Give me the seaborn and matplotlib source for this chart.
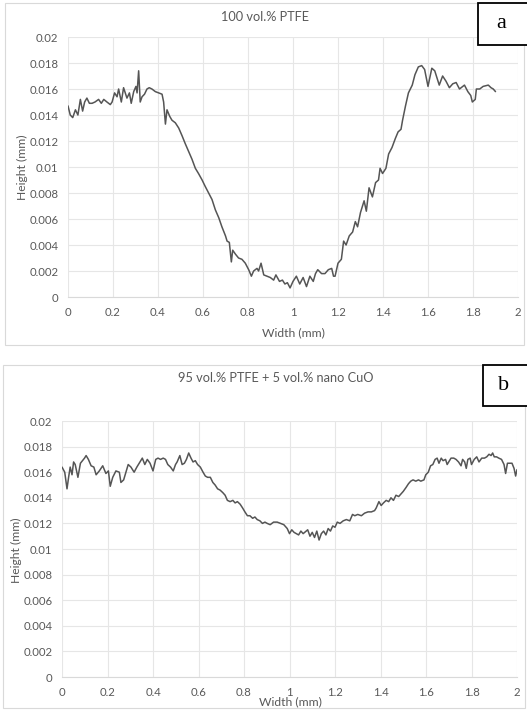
import matplotlib
matplotlib.use("Agg")
import matplotlib.pyplot as plt
from matplotlib.patches import Rectangle
import seaborn as sns
import pandas as pd

# ---------------- data ----------------
a_width = [0.000, 0.010, 0.021, 0.033, 0.044, 0.055, 0.065, 0.074, 0.084, 0.095,
           0.107, 0.120, 0.136, 0.148, 0.159, 0.173, 0.188, 0.196, 0.207, 0.218,
           0.225, 0.237, 0.247, 0.262, 0.273, 0.281, 0.292, 0.302, 0.307, 0.314,
           0.321, 0.329, 0.340, 0.351, 0.361, 0.373, 0.388, 0.403, 0.418, 0.425,
           0.433, 0.440, 0.452, 0.462, 0.477, 0.492, 0.507, 0.521, 0.536, 0.551,
           0.566, 0.580, 0.596, 0.610, 0.625, 0.640, 0.655, 0.670, 0.684, 0.700,
           0.707, 0.717, 0.726, 0.732, 0.744, 0.758, 0.773, 0.788, 0.803, 0.815,
           0.825, 0.840, 0.847, 0.858, 0.870, 0.884, 0.899, 0.914, 0.924, 0.940,
           0.953, 0.964, 0.975, 0.987, 1.000, 1.015, 1.030, 1.045, 1.060, 1.075,
           1.090, 1.100, 1.110, 1.127, 1.142, 1.157, 1.172, 1.180, 1.187, 1.200,
           1.215, 1.225, 1.236, 1.250, 1.265, 1.277, 1.287, 1.300, 1.316, 1.326,
           1.338, 1.353, 1.367, 1.380, 1.387, 1.398, 1.413, 1.425, 1.440, 1.455,
           1.467, 1.480, 1.487, 1.500, 1.513, 1.530, 1.542, 1.557, 1.572, 1.585,
           1.600, 1.617, 1.630, 1.650, 1.665, 1.680, 1.695, 1.710, 1.725, 1.740,
           1.762, 1.777, 1.790, 1.797, 1.810, 1.815, 1.830, 1.845, 1.868, 1.880,
           1.890, 1.900]
a_height = [0.0147, 0.0140, 0.0138, 0.0144, 0.0140, 0.0152, 0.0143, 0.0150, 0.0153, 0.0149,
            0.0149, 0.0150, 0.0152, 0.0149, 0.0152, 0.0150, 0.0148, 0.0150, 0.0157, 0.0154,
            0.0160, 0.0150, 0.0161, 0.0153, 0.0157, 0.0149, 0.0158, 0.0162, 0.0157, 0.0174,
            0.0150, 0.0154, 0.0156, 0.0160, 0.0161, 0.0160, 0.0158, 0.0157, 0.0156, 0.0150,
            0.0133, 0.0144, 0.0139, 0.0136, 0.0134, 0.0130, 0.0124, 0.0118, 0.0112, 0.0106,
            0.0099, 0.0095, 0.0090, 0.0085, 0.0080, 0.0075, 0.0067, 0.0061, 0.0054, 0.0047,
            0.0043, 0.0042, 0.0027, 0.0036, 0.0033, 0.0030, 0.0029, 0.0026, 0.0021, 0.0016,
            0.0020, 0.0022, 0.0020, 0.0026, 0.0017, 0.0016, 0.0015, 0.0013, 0.0017, 0.0012,
            0.0013, 0.0010, 0.0011, 0.0007, 0.0012, 0.0016, 0.0010, 0.0015, 0.0008, 0.0016,
            0.0012, 0.0018, 0.0021, 0.0018, 0.0018, 0.0021, 0.0022, 0.0016, 0.0016, 0.0026,
            0.0029, 0.0043, 0.0040, 0.0047, 0.0050, 0.0058, 0.0054, 0.0065, 0.0074, 0.0066,
            0.0084, 0.0077, 0.0088, 0.0090, 0.0099, 0.0095, 0.0099, 0.0110, 0.0115, 0.0122,
            0.0127, 0.0129, 0.0136, 0.0147, 0.0157, 0.0163, 0.0171, 0.0177, 0.0178, 0.0175,
            0.0162, 0.0176, 0.0174, 0.0163, 0.0170, 0.0166, 0.0161, 0.0164, 0.0165, 0.0160,
            0.0163, 0.0158, 0.0155, 0.0150, 0.0152, 0.0160, 0.0160, 0.0162, 0.0163, 0.0161,
            0.0160, 0.0158]

b_width = [0.000, 0.012, 0.022, 0.029, 0.036, 0.044, 0.051, 0.058, 0.070, 0.081,
           0.099, 0.106, 0.116, 0.128, 0.140, 0.150, 0.164, 0.179, 0.193, 0.204,
           0.212, 0.223, 0.237, 0.252, 0.259, 0.271, 0.281, 0.291, 0.303, 0.317,
           0.329, 0.343, 0.353, 0.364, 0.375, 0.387, 0.400, 0.412, 0.422, 0.433,
           0.445, 0.455, 0.465, 0.477, 0.489, 0.499, 0.506, 0.518, 0.528, 0.538,
           0.547, 0.557, 0.567, 0.576, 0.586, 0.596, 0.608, 0.620, 0.630, 0.640,
           0.652, 0.663, 0.673, 0.684, 0.695, 0.707, 0.717, 0.727, 0.739, 0.751,
           0.761, 0.771, 0.783, 0.794, 0.804, 0.815, 0.826, 0.838, 0.848, 0.858,
           0.870, 0.881, 0.892, 0.902, 0.915, 0.930, 0.946, 0.960, 0.975, 0.990,
           1.000, 1.010, 1.020, 1.040, 1.050, 1.060, 1.080, 1.090, 1.100, 1.110,
           1.120, 1.130, 1.140, 1.150, 1.160, 1.170, 1.180, 1.190, 1.200, 1.210,
           1.222, 1.236, 1.250, 1.265, 1.277, 1.287, 1.300, 1.316, 1.330, 1.345,
           1.360, 1.374, 1.381, 1.393, 1.403, 1.413, 1.425, 1.436, 1.446, 1.457,
           1.468, 1.480, 1.490, 1.500, 1.512, 1.523, 1.533, 1.543, 1.555, 1.567,
           1.577, 1.591, 1.599, 1.610, 1.620, 1.630, 1.640, 1.649, 1.657, 1.667,
           1.675, 1.686, 1.693, 1.700, 1.710, 1.722, 1.732, 1.743, 1.754, 1.761,
           1.770, 1.777, 1.784, 1.794, 1.800, 1.812, 1.823, 1.833, 1.845, 1.857,
           1.867, 1.877, 1.886, 1.893, 1.900, 1.910, 1.920, 1.932, 1.943, 1.950,
           1.958, 1.968, 1.978, 1.987, 1.994, 2.000]
b_height = [0.0164, 0.0160, 0.0147, 0.0156, 0.0164, 0.0158, 0.0168, 0.0166, 0.0156, 0.0167,
            0.0171, 0.0173, 0.0170, 0.0165, 0.0164, 0.0158, 0.0161, 0.0165, 0.0159, 0.0161,
            0.0149, 0.0156, 0.0161, 0.0160, 0.0152, 0.0154, 0.0160, 0.0166, 0.0164, 0.0160,
            0.0164, 0.0168, 0.0171, 0.0166, 0.0170, 0.0167, 0.0161, 0.0170, 0.0171, 0.0170,
            0.0171, 0.0170, 0.0166, 0.0164, 0.0161, 0.0166, 0.0168, 0.0173, 0.0166, 0.0167,
            0.0170, 0.0175, 0.0171, 0.0168, 0.0169, 0.0166, 0.0164, 0.0160, 0.0157, 0.0156,
            0.0156, 0.0152, 0.0150, 0.0147, 0.0146, 0.0144, 0.0142, 0.0138, 0.0137, 0.0138,
            0.0136, 0.0137, 0.0135, 0.0132, 0.0129, 0.0126, 0.0126, 0.0124, 0.0125, 0.0123,
            0.0122, 0.0120, 0.0121, 0.0120, 0.0119, 0.0121, 0.0121, 0.0120, 0.0119, 0.0116,
            0.0112, 0.0115, 0.0113, 0.0111, 0.0114, 0.0112, 0.0115, 0.0110, 0.0113, 0.0109,
            0.0114, 0.0107, 0.0112, 0.0114, 0.0111, 0.0116, 0.0114, 0.0118, 0.0117, 0.0121,
            0.0120, 0.0122, 0.0123, 0.0122, 0.0127, 0.0126, 0.0127, 0.0126, 0.0128, 0.0129,
            0.0129, 0.0130, 0.0132, 0.0137, 0.0134, 0.0136, 0.0138, 0.0137, 0.0140, 0.0138,
            0.0142, 0.0141, 0.0143, 0.0145, 0.0148, 0.0151, 0.0153, 0.0154, 0.0153, 0.0154,
            0.0153, 0.0154, 0.0158, 0.0160, 0.0165, 0.0166, 0.0170, 0.0171, 0.0167, 0.0171,
            0.0169, 0.0170, 0.0166, 0.0168, 0.0171, 0.0171, 0.0170, 0.0168, 0.0165, 0.0170,
            0.0168, 0.0163, 0.0170, 0.0171, 0.0166, 0.0170, 0.0172, 0.0168, 0.0171, 0.0171,
            0.0172, 0.0174, 0.0173, 0.0175, 0.0172, 0.0172, 0.0171, 0.0170, 0.0166, 0.0159,
            0.0167, 0.0167, 0.0167, 0.0163, 0.0157, 0.0162]

titles = ["100 vol.% PTFE", "95 vol.% PTFE + 5 vol.% nano CuO"]
panel_tags = ["a", "b"]
x_ticks = [0, 0.2, 0.4, 0.6, 0.8, 1, 1.2, 1.4, 1.6, 1.8, 2]
x_tick_labels = ["0", "0.2", "0.4", "0.6", "0.8", "1", "1.2", "1.4", "1.6", "1.8", "2"]
y_ticks = [0, 0.002, 0.004, 0.006, 0.008, 0.01, 0.012, 0.014, 0.016, 0.018, 0.02]
y_tick_labels = ["0", "0.002", "0.004", "0.006", "0.008", "0.01", "0.012", "0.014",
                 "0.016", "0.018", "0.02"]
x_label = "Width (mm)"
y_label = "Height (mm)"

# ---------------- style ----------------
sns.set_theme(style="white")
plt.rcParams["font.family"] = ["Lato", "DejaVu Sans"]

W, H = 527, 712
fig = plt.figure(figsize=(W / 100, H / 100), dpi=100)
fig.patch.set_facecolor("white")

TXT = "#595959"
GRID = "#e6e6e6"
LINE = "#555555"

def fx(px):
    return px / W

def fy(py):
    return 1 - py / H

panels = [
    dict(df=pd.DataFrame({"w": a_width, "h": a_height}),
         ax=(68, 37, 518, 297), box=(5, 3, 524, 345), tag=(478, 3, 530, 45),
         title=(265, 17), ylab=(22, 167), xlab=(293, 333)),
    dict(df=pd.DataFrame({"w": b_width, "h": b_height}),
         ax=(62, 421, 517, 677), box=(3, 365, 525, 708), tag=(483, 365, 530, 406),
         title=(276, 378), ylab=(16, 550), xlab=(290, 702)),
]

for i, p in enumerate(panels):
    # outer panel border (outline only, drawn behind axes content)
    x0, y0, x1, y1 = p["box"]
    fig.patches.append(Rectangle((fx(x0), fy(y1)), fx(x1 - x0), (y1 - y0) / H,
                                 transform=fig.transFigure, facecolor="none",
                                 edgecolor="#d9d9d9", linewidth=0.8, zorder=-1))
    l, t, r, b = p["ax"]
    ax = fig.add_axes([fx(l), fy(b), fx(r - l), (b - t) / H])
    ax.set_facecolor("none")
    sns.lineplot(data=p["df"], x="w", y="h", ax=ax, color=LINE, linewidth=1.1,
                 estimator=None, sort=False)
    ax.set_xlim(0, 2)
    ax.set_ylim(0, 0.02)
    ax.set_xticks(x_ticks)
    ax.set_xticklabels(x_tick_labels)
    ax.set_yticks(y_ticks)
    ax.set_yticklabels(y_tick_labels)
    ax.tick_params(axis="both", length=0, labelsize=8.2, colors=TXT, pad=7)
    ax.grid(True, color=GRID, linewidth=0.8)
    ax.set_axisbelow(True)
    for s in ["top", "right", "left"]:
        ax.spines[s].set_visible(False)
    ax.spines["bottom"].set_color("#d9d9d9")
    ax.spines["bottom"].set_linewidth(0.8)
    ax.set_xlabel("")
    ax.set_ylabel("")

    fig.text(fx(p["title"][0]), fy(p["title"][1]), titles[i], ha="center",
             va="center", fontsize=9.2, color=TXT)
    fig.text(fx(p["ylab"][0]), fy(p["ylab"][1]), y_label, ha="center",
             va="center", rotation=90, fontsize=8.7, color=TXT)
    fig.text(fx(p["xlab"][0]), fy(p["xlab"][1]), x_label, ha="center",
             va="center", fontsize=8.7, color=TXT)

    # panel tag box
    tx0, ty0, tx1, ty1 = p["tag"]
    fig.patches.append(Rectangle((fx(tx0), fy(ty1)), fx(tx1 - tx0), (ty1 - ty0) / H,
                                 transform=fig.transFigure, facecolor="white",
                                 edgecolor="black", linewidth=1.3, zorder=5))
    fig.text(fx((tx0 + 525) / 2), fy((ty0 + ty1) / 2), panel_tags[i],
             ha="center", va="center", fontsize=16,
             family=["Liberation Serif", "DejaVu Serif"], color="black", zorder=6)

fig.savefig("out.png", dpi=100, facecolor="white")
